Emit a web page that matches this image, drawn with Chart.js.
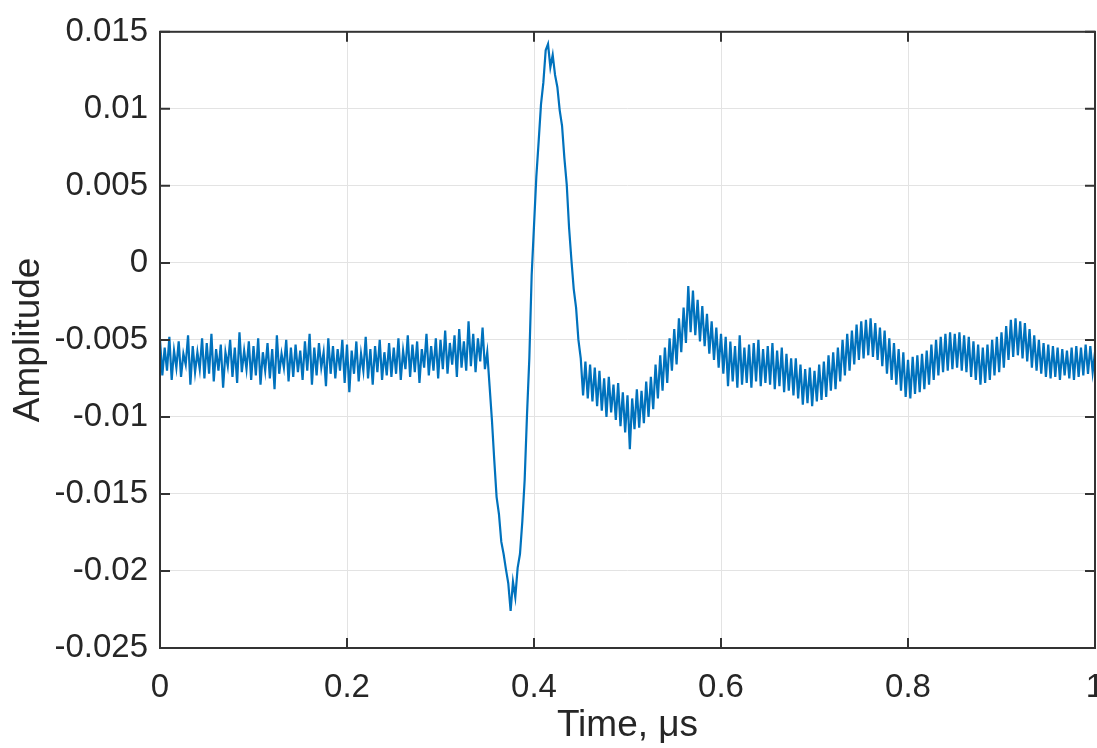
<!DOCTYPE html>
<html>
<head>
<meta charset="utf-8">
<script src="https://cdn.jsdelivr.net/npm/chart.js@4.4.1/dist/chart.umd.min.js"></script>
<style>
  body { margin: 0; background: #fff; }
  canvas { display: block; }
</style>
</head>
<body>
<canvas id="myChart" width="1097" height="748"></canvas>
<script>
// sampling interval of the trace, in microseconds
const dt = 0.0025;

// amplitude before the pulse, t = 0 .. 0.3475 us
const preTrigger = [
  -0.0050, -0.0073, -0.0055, -0.0070, -0.0048, -0.0076, -0.0057, -0.0068, -0.0051, -0.0074, -0.0059, -0.0066, -0.0047, -0.0079, -0.0054, -0.0071, -0.0058, -0.0069, -0.0049, -0.0075,
  -0.0052, -0.0072, -0.0046, -0.0077, -0.0056, -0.0070, -0.0053, -0.0081, -0.0058, -0.0067, -0.0050, -0.0074, -0.0055, -0.0078, -0.0045, -0.0071, -0.0057, -0.0069, -0.0051, -0.0076,
  -0.0054, -0.0073, -0.0049, -0.0079, -0.0058, -0.0070, -0.0052, -0.0075, -0.0056, -0.0082, -0.0047, -0.0072, -0.0059, -0.0068, -0.0050, -0.0077, -0.0055, -0.0074, -0.0053, -0.0071,
  -0.0057, -0.0076, -0.0051, -0.0070, -0.0046, -0.0079, -0.0055, -0.0073, -0.0052, -0.0068, -0.0058, -0.0080, -0.0049, -0.0072, -0.0054, -0.0075, -0.0056, -0.0070, -0.0050, -0.0078,
  -0.0053, -0.0084, -0.0057, -0.0072, -0.0051, -0.0077, -0.0059, -0.0070, -0.0048, -0.0075, -0.0056, -0.0079, -0.0054, -0.0071, -0.0050, -0.0076, -0.0058, -0.0073, -0.0052, -0.0074,
  -0.0055, -0.0072, -0.0049, -0.0076, -0.0057, -0.0069, -0.0047, -0.0074, -0.0053, -0.0071, -0.0051, -0.0078, -0.0056, -0.0068, -0.0046, -0.0073, -0.0054, -0.0070, -0.0049, -0.0075,
  -0.0050, -0.0069, -0.0044, -0.0072, -0.0052, -0.0066, -0.0047, -0.0074, -0.0043, -0.0068, -0.0051, -0.0070, -0.0038, -0.0067, -0.0046, -0.0071, -0.0049, -0.0064, -0.0042, -0.0069
];

// the pulse itself, t = 0.35 .. 0.4475 us
const pulse = [
  -0.0058, -0.0080, -0.0102, -0.0128, -0.0152, -0.0163, -0.0181, -0.0189, -0.0199, -0.0208,
  -0.0226, -0.0207, -0.0217, -0.0198, -0.0189, -0.0168, -0.0141, -0.0099, -0.0062, -0.0008,
  0.0024, 0.0056, 0.0079, 0.0103, 0.0117, 0.0138, 0.0142, 0.0127, 0.0135, 0.0122,
  0.0114, 0.0099, 0.0089, 0.0068, 0.0051, 0.0023, 0.0002, -0.0017, -0.0029, -0.0050
];

// ringing after the pulse, t = 0.45 .. 1.0 us
const tail = [
  -0.0062, -0.0086, -0.0064, -0.0088, -0.0066, -0.0090, -0.0068, -0.0093, -0.0070, -0.0096, -0.0075, -0.0100, -0.0074, -0.0097, -0.0079, -0.0102, -0.0078, -0.0106, -0.0084, -0.0110,
  -0.0086, -0.0121, -0.0088, -0.0108, -0.0082, -0.0107, -0.0083, -0.0104, -0.0077, -0.0100, -0.0074, -0.0095, -0.0066, -0.0088, -0.0060, -0.0083, -0.0055, -0.0078, -0.0049, -0.0070,
  -0.0043, -0.0066, -0.0036, -0.0058, -0.0029, -0.0052, -0.0015, -0.0045, -0.0018, -0.0047, -0.0024, -0.0051, -0.0028, -0.0054, -0.0033, -0.0059, -0.0038, -0.0063, -0.0042, -0.0068,
  -0.0046, -0.0072, -0.0048, -0.0080, -0.0051, -0.0077, -0.0054, -0.0081, -0.0047, -0.0079, -0.0055, -0.0078, -0.0053, -0.0081, -0.0052, -0.0077, -0.0050, -0.0080, -0.0056, -0.0078,
  -0.0054, -0.0079, -0.0052, -0.0082, -0.0057, -0.0080, -0.0055, -0.0084, -0.0059, -0.0083, -0.0062, -0.0086, -0.0062, -0.0088, -0.0066, -0.0092, -0.0069, -0.0091, -0.0068, -0.0093,
  -0.0070, -0.0090, -0.0066, -0.0089, -0.0064, -0.0087, -0.0060, -0.0083, -0.0058, -0.0082, -0.0055, -0.0077, -0.0050, -0.0073, -0.0046, -0.0070, -0.0044, -0.0066, -0.0040, -0.0063,
  -0.0038, -0.0062, -0.0037, -0.0060, -0.0036, -0.0061, -0.0039, -0.0063, -0.0042, -0.0067, -0.0044, -0.0072, -0.0049, -0.0076, -0.0052, -0.0079, -0.0056, -0.0083, -0.0058, -0.0087,
  -0.0063, -0.0088, -0.0061, -0.0085, -0.0060, -0.0084, -0.0059, -0.0082, -0.0057, -0.0079, -0.0053, -0.0076, -0.0050, -0.0073, -0.0048, -0.0071, -0.0046, -0.0070, -0.0045, -0.0069,
  -0.0046, -0.0068, -0.0045, -0.0070, -0.0047, -0.0071, -0.0048, -0.0074, -0.0051, -0.0076, -0.0053, -0.0079, -0.0055, -0.0078, -0.0053, -0.0076, -0.0050, -0.0073, -0.0048, -0.0071,
  -0.0045, -0.0068, -0.0041, -0.0063, -0.0037, -0.0061, -0.0036, -0.0060, -0.0038, -0.0062, -0.0039, -0.0064, -0.0043, -0.0068, -0.0047, -0.0070, -0.0050, -0.0072, -0.0052, -0.0074,
  -0.0053, -0.0075, -0.0054, -0.0074, -0.0055, -0.0076, -0.0056, -0.0073, -0.0057, -0.0075, -0.0055, -0.0076, -0.0054, -0.0074, -0.0055, -0.0073, -0.0053, -0.0072, -0.0054, -0.0071, -0.0058
];

const xTicks = [0, 0.2, 0.4, 0.6, 0.8, 1];
const yTicks = [-0.025, -0.02, -0.015, -0.01, -0.005, 0, 0.005, 0.01, 0.015];

const amplitude = preTrigger.concat(pulse, tail);
const points = amplitude.map((v, i) => ({ x: i * dt, y: v }));

const ink = "#262626";
const fontFamily = "'Liberation Sans', Arial, Helvetica, sans-serif";

// matlab style box with inward ticks on all four sides
const boxPlugin = {
  id: "box",
  afterDraw(chart) {
    const { ctx, chartArea: a, scales } = chart;
    const len = 10;
    ctx.save();
    ctx.strokeStyle = "#333";
    ctx.lineWidth = 2;
    ctx.beginPath();
    xTicks.forEach((t) => {
      const px = scales.x.getPixelForValue(t);
      ctx.moveTo(px, a.bottom); ctx.lineTo(px, a.bottom - len);
      ctx.moveTo(px, a.top); ctx.lineTo(px, a.top + len);
    });
    yTicks.forEach((t) => {
      const py = scales.y.getPixelForValue(t);
      ctx.moveTo(a.left, py); ctx.lineTo(a.left + len, py);
      ctx.moveTo(a.right, py); ctx.lineTo(a.right - len, py);
    });
    ctx.stroke();
    ctx.strokeRect(a.left, a.top, a.right - a.left, a.bottom - a.top);
    ctx.restore();
  },
};

const config = {
  type: "line",
  data: {
    datasets: [
      {
        data: points,
        borderColor: "#0072BD",
        borderWidth: 2.2,
        pointRadius: 0,
        tension: 0,
        fill: false,
      },
    ],
  },
  options: {
    responsive: false,
    animation: false,
    events: [],
    layout: { padding: { top: 25, right: 2, left: 0, bottom: 0 } },
    plugins: { legend: { display: false }, tooltip: { enabled: false } },
    scales: {
      x: {
        type: "linear",
        min: 0,
        max: 1,
        afterBuildTicks: (s) => { s.ticks = xTicks.map((v) => ({ value: v })); },
        afterFit: (s) => { s.height = 100; s.paddingLeft = 0; s.paddingRight = 0; },
        grid: { color: "#e3e3e3", lineWidth: 1, drawTicks: false },
        border: { display: false },
        ticks: {
          padding: 20,
          color: ink,
          font: { family: fontFamily, size: 33 },
          maxRotation: 0,
          callback: (v) => String(+v.toFixed(1)),
        },
        title: {
          display: true,
          text: "Time, μs",
          color: ink,
          font: { family: fontFamily, size: 37 },
          padding: { top: 0, bottom: 0 },
        },
      },
      y: {
        min: -0.025,
        max: 0.015,
        afterBuildTicks: (s) => { s.ticks = yTicks.map((v) => ({ value: v })); },
        afterFit: (s) => { s.width = 160; },
        grid: { color: "#e3e3e3", lineWidth: 1, drawTicks: false },
        border: { display: false },
        ticks: {
          padding: 12,
          color: ink,
          font: { family: fontFamily, size: 33 },
          callback: (v) => String(+v.toFixed(3)),
        },
        title: {
          display: true,
          text: "Amplitude",
          color: ink,
          font: { family: fontFamily, size: 37 },
          padding: { top: 7, bottom: 0 },
        },
      },
    },
  },
  plugins: [boxPlugin],
};

const myChart = new Chart(document.getElementById("myChart"), config);
</script>
</body>
</html>
